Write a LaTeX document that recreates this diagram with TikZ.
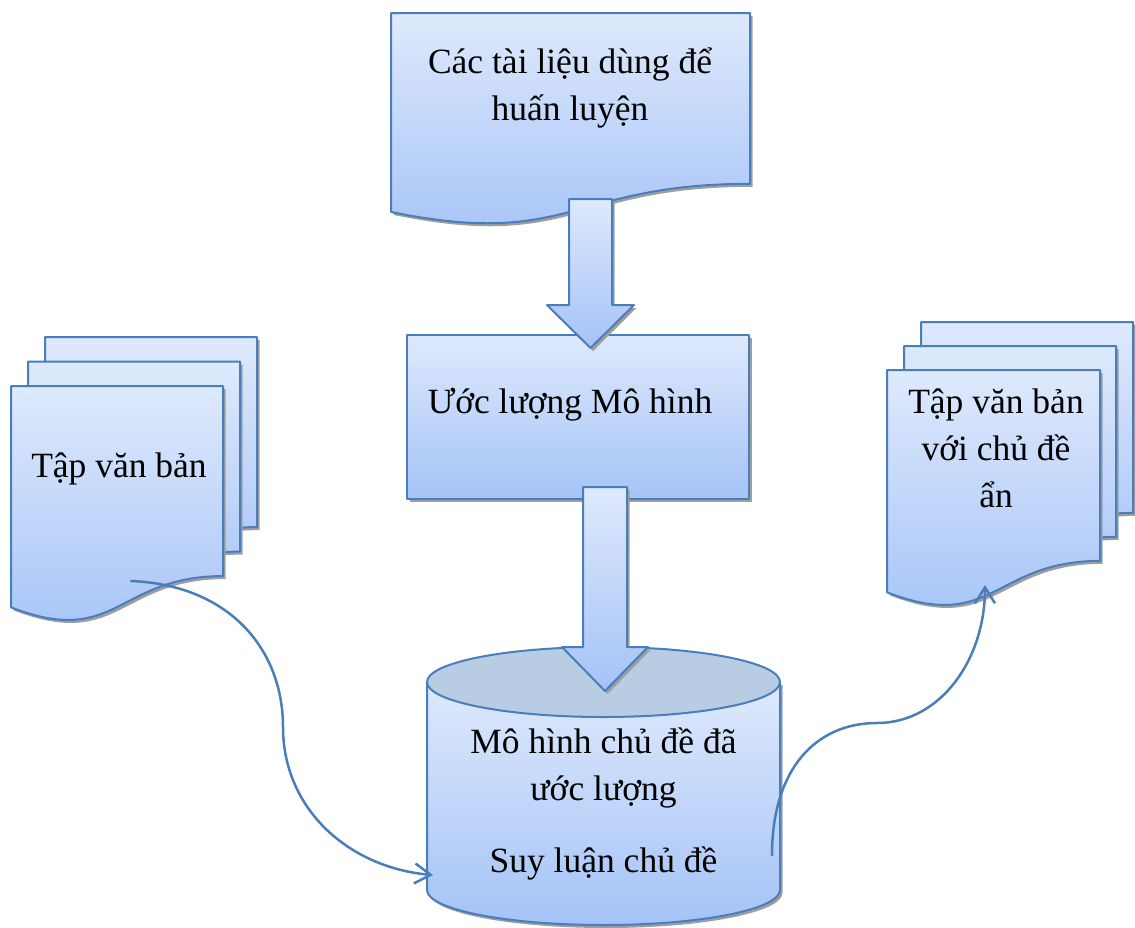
\documentclass[tikz,border=0pt]{standalone}
\usepackage{fontspec}
\setmainfont{Liberation Serif}
\usetikzlibrary{arrows.meta}

\definecolor{edge}{RGB}{74,126,187}
\definecolor{filltop}{RGB}{222,233,252}
\definecolor{fillbot}{RGB}{164,195,247}
\definecolor{cantop}{RGB}{184,204,228}
\definecolor{shadowgray}{RGB}{158,158,158}

\tikzset{
  boxfill/.style={draw=edge, line width=2pt, line join=round,
                  top color=filltop, bottom color=fillbot},
  dropsh/.style={fill=shadowgray, shift={(2.5,3)}},
  lbl/.style={font=\fontsize{35.5}{47}\selectfont, anchor=base, inner sep=0pt},
  conn/.style={draw=edge, line width=2.5pt, line cap=round,
               -{Straight Barb[length=16pt,width=20pt]}}
}

% document page with a wavy lower edge: x, y (top left), width, height
\newcommand\docpath[4]{(#1,#2) -- ({#1+#3},#2) -- ({#1+#3},{#2+0.802*#4})
  .. controls ({#1+0.5*#3},{#2+0.802*#4}) and ({#1+0.5*#3},{#2+1.107*#4}) ..
  (#1,{#2+0.934*#4}) -- cycle}
\newcommand\docpage[4]{%
  \fill[dropsh] \docpath{#1}{#2}{#3}{#4};
  \path[boxfill] \docpath{#1}{#2}{#3}{#4};}

\begin{document}
\begin{tikzpicture}[x=1pt,y=-1pt]
\useasboundingbox (0,0) rectangle (1135,927);

% training documents
\docpage{391}{13}{359}{213}

% model estimation box
\fill[dropsh] (407,335) rectangle (749,499);
\path[boxfill] (407,335) rectangle (749,499);

% left stack of pages
\docpage{45}{337}{212}{237}
\docpage{28}{361.5}{212}{237}
\docpage{11}{386}{212}{237}

% right stack of pages
\docpage{921}{322}{212}{238}
\docpage{904}{346}{212}{238}
\docpage{887}{370}{213}{238}

% topic model cylinder
\fill[dropsh] (427,682) -- (427,890)
  arc[start angle=180,end angle=0,x radius=176.5,y radius=35] -- (780,682) -- cycle;
\path[boxfill] (427,682) -- (427,890)
  arc[start angle=180,end angle=0,x radius=176.5,y radius=35] -- (780,682) -- cycle;
\path[draw=edge, line width=2pt, fill=cantop]
  (603.5,682) ellipse[x radius=176.5, y radius=35];

% block arrows
\fill[dropsh] (569,199) -- (612,199) -- (612,305) -- (634,305) -- (590.5,348)
  -- (547,305) -- (569,305) -- cycle;
\path[boxfill] (569,199) -- (612,199) -- (612,305) -- (634,305) -- (590.5,348)
  -- (547,305) -- (569,305) -- cycle;
\fill[dropsh] (583,487) -- (627,487) -- (627,647) -- (648,647) -- (605,691)
  -- (562,647) -- (583,647) -- cycle;
\path[boxfill] (583,487) -- (627,487) -- (627,647) -- (648,647) -- (605,691)
  -- (562,647) -- (583,647) -- cycle;

% labels
\node[lbl] (trainA) at (570,73) {Các tài liệu dùng để};
\node[lbl] (trainB) at (570,120) {huấn luyện};
\node[lbl] (estim) at (570,413) {Ước lượng Mô hình};
\node[lbl] (modelA) at (603.5,753) {Mô hình chủ đề đã};
\node[lbl] (modelB) at (603.5,800) {ước lượng};
\node[lbl] (infer) at (603.5,872) {Suy luận chủ đề};
\node[lbl] (corpus) at (119,477) {Tập văn bản};
\node[lbl] (outA) at (996,413) {Tập văn bản};
\node[lbl] (outB) at (996,460) {với chủ đề};
\node[lbl] (outC) at (996,507) {ẩn};

% curved connectors
\coordinate (corpusOut) at (131,581);
\coordinate (inferIn) at (433,875);
\coordinate (inferOut) at (772,855);
\coordinate (outIn) at (985,585);
\draw[conn] (corpusOut) .. controls (230,585) and (283,650) .. (283,727)
  .. controls (283,810) and (350,868) .. (inferIn);
\draw[conn] (inferOut) .. controls (772,770) and (815,723) .. (877,723)
  .. controls (940,723) and (985,660) .. (outIn);
\end{tikzpicture}
\end{document}
